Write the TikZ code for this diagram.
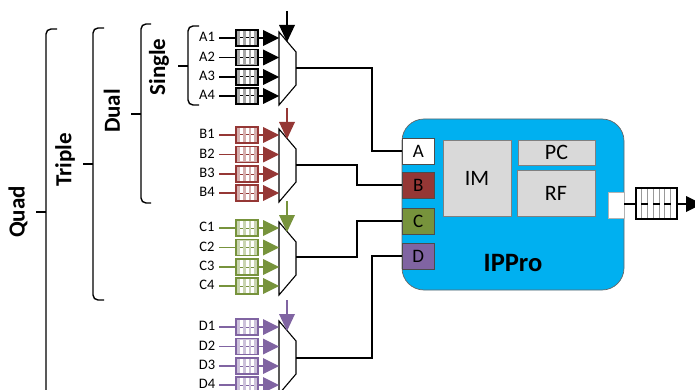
\documentclass[tikz,border=0pt]{standalone}
\usepackage{fontspec}
\setmainfont{Carlito}
\definecolor{bred}{HTML}{953735}
\definecolor{bgreen}{HTML}{77933C}
\definecolor{bpurple}{HTML}{8064A2}
\definecolor{ippblue}{HTML}{00B0F0}
\definecolor{ippgrey}{HTML}{D9D9D9}
\tikzset{
  x=1pt,y=-1pt,
  brace/.style={line width=1.4pt,rounded corners=5pt},
  tick/.style={line width=1.4pt},
  grouplabel/.style={rotate=90,font=\fontsize{23}{23}\selectfont\bfseries,inner sep=0pt},
  inlabel/.style={font=\fontsize{14.5}{15}\selectfont,inner sep=0pt},
  wire/.style={line width=1.4pt},
  muxshape/.style={draw=black,fill=white,line width=1.1pt,line join=miter},
  port/.style={draw=black!70,line width=.7pt,minimum width=32.5pt,minimum height=26pt,inner sep=0pt,font=\fontsize{19}{19}\selectfont},
  block/.style={draw=black!50,line width=.7pt,fill=ippgrey,inner sep=0pt,font=\fontsize{22}{22}\selectfont},
}
% #1 y offset, #2 colour, #3 fifo tint, #4 name prefix, #5 letter
\newcommand{\inputgroup}[5]{
  \begin{scope}[yshift=-#1pt]
    \coordinate (#4top) at (287,11);
    \coordinate (#4tip) at (287,42);
    \draw[muxshape] (279,32) -- (296,52) -- (296,85) -- (279,105) -- cycle;
    \draw[#2,line width=1.4pt] (#4top) -- (287,26);
    \path[fill=#2] (279,25) -- (295,25) -- (#4tip) -- cycle;
    \foreach \n/\y in {1/38,2/57.5,3/77,4/96}{
      \node[inlabel,text=black] (#4l\n) at (207,\y-1) {#5\n};
      \coordinate (#4s\n) at (219,\y);
      \coordinate (#4e\n) at (264,\y);
      \draw[#2,line width=1.4pt] (#4s\n) -- (236,\y);
      \draw[#2,line width=1.4pt] (258,\y) -- (#4e\n);
      \path[fill=#2] (263,\y-8) -- (279,\y) -- (263,\y+8) -- cycle;
      \fill[#3] (236,\y-8) rectangle (258,\y+8);
      \foreach \x in {241.5,247,252.5}{\draw[white,line width=3pt] (\x,\y-7) -- (\x,\y+7);}
      \foreach \x in {240,245.5,251}{\draw[#2,line width=1pt] (\x,\y) -- (\x+3,\y);}
      \draw[#2,line width=1.3pt] (236,\y-8) rectangle (258,\y+8);
    }
  \end{scope}
}
\begin{document}
\begin{tikzpicture}
\useasboundingbox (0,0) rectangle (695,390);
\clip (0,0) rectangle (695,390);
% brackets
\draw[brace] (57,29) -- (46,29) -- (46,400) -- (57,400);
\draw[tick] (36,212) -- (46,212);
\draw[brace] (104,28) -- (93,28) -- (93,300) -- (104,300);
\draw[tick] (83,164) -- (93,164);
\draw[brace] (151,24) -- (141,24) -- (141,203) -- (151,203);
\draw[tick] (131,114) -- (141,114);
\draw[brace] (199,26) -- (188,26) -- (188,105) -- (199,105);
\draw[tick] (178,66) -- (188,66);
\node[grouplabel] (quad) at (18,212) {Quad};
\node[grouplabel] (triple) at (65,160) {Triple};
\node[grouplabel] (dual) at (112,111) {Dual};
\node[grouplabel] (single) at (159,67) {Single};
% processor
\node[draw=black!60,fill=ippblue,line width=.7pt,rounded corners=22pt,minimum width=222pt,minimum height=171pt,inner sep=0pt] (ippro) at (513,204.5) {};
\node[block,minimum width=68pt,minimum height=76pt] (im) at (477,178) {IM};
\node[block,minimum width=77pt,minimum height=25pt] (pc) at (556.5,152.5) {PC};
\node[block,minimum width=78pt,minimum height=46pt] (rf) at (556,193) {RF};
\node[port,fill=white] (pa) at (418.25,151) {A};
\node[port,fill=bred] (pb) at (418.25,185) {B};
\node[port,fill=bgreen] (pc2) at (418.25,221) {C};
\node[port,fill=bpurple] (pd) at (418.25,256) {D};
\node[font=\fontsize{26.5}{27}\selectfont\bfseries,inner sep=0pt] (name) at (513,263) {IPPro};
\node[draw=black!30,line width=.5pt,fill=white,minimum width=16pt,minimum height=26pt,inner sep=0pt] (outp) at (616,205) {};
% input groups
\inputgroup{0}{black}{black!35}{a}{A}
\inputgroup{97}{bred}{bred!40}{b}{B}
\inputgroup{190}{bgreen}{bgreen!40}{c}{C}
\inputgroup{289}{bpurple}{bpurple!40}{d}{D}
% mux outputs
\draw[wire] (296,68) -| (372,151) -- (pa.west);
\draw[wire] (296,165) -| (357,185) -- (pb.west);
\draw[wire] (296,257) -| (357,221) -- (pc2.west);
\draw[wire] (296,358) -| (372,256) -- (pd.west);
% output fifo
\coordinate (outend) at (688,204);
\draw[wire] (624,204) -- (636,204);
\draw[wire] (677,204) -- (outend);
\fill[black] (686,196) -- (702,204) -- (686,212) -- cycle;
\fill[white] (636,188) rectangle (677,219);
\foreach \x in {641,647,653,659,664,670}{\draw[black!40,line width=.8pt] (\x,188) -- (\x,219);}
\foreach \x in {641,653,664}{\draw[black,line width=1.4pt] (\x,204) -- (\x+6.5,204);}
\draw[black,line width=1.4pt] (636,188) rectangle (677,219);
\end{tikzpicture}
\end{document}
